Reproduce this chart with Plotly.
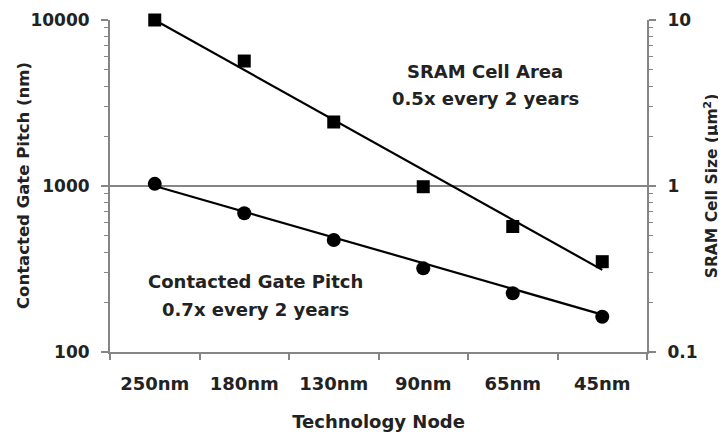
import plotly.graph_objects as go

nodes = ["250nm", "180nm", "130nm", "90nm", "65nm", "45nm"]
gate_pitch_nm = [1030, 685, 473, 319, 226, 163]
sram_cell_um2 = [10.0, 5.66, 2.43, 0.99, 0.57, 0.35]
trend_nodes = ["250nm", "45nm"]
gate_trend = [1000, 168]
sram_trend = [10.0, 0.3125]

left_major = [100, 1000, 10000]
left_labels = ["100", "1000", "10000"]
left_minor = [200, 300, 400, 500, 600, 700, 800, 900,
              2000, 3000, 4000, 5000, 6000, 7000, 8000, 9000]
right_major = [0.1, 1, 10]
right_labels = ["0.1", "1", "10"]
right_minor = [0.2, 0.3, 0.4, 0.5, 0.6, 0.7, 0.8, 0.9,
               2, 3, 4, 5, 6, 7, 8, 9]

FONT = "DejaVu Sans, sans-serif"
TXT = "#222222"
AX = "#858585"
BOLD = dict(family=FONT, color=TXT, weight="bold")

# plot area in page pixels (page body has an 8px margin)
PL, PR, PT, PB = 110, 647, 20, 352


def px(x):
    return (x - PL) / (PR - PL)


def py(y):
    return (PB - y) / (PB - PT)


fig = go.Figure()
fig.add_trace(go.Scatter(x=trend_nodes, y=gate_trend, mode="lines",
                         line=dict(color="#000", width=2.2), yaxis="y", showlegend=False,
                         cliponaxis=False))
fig.add_trace(go.Scatter(x=nodes, y=gate_pitch_nm, mode="markers",
                         marker=dict(symbol="circle", size=14, color="#000"),
                         yaxis="y", showlegend=False, cliponaxis=False))
fig.add_trace(go.Scatter(x=trend_nodes, y=sram_trend, mode="lines",
                         line=dict(color="#000", width=2.2), yaxis="y2", showlegend=False,
                         cliponaxis=False))
fig.add_trace(go.Scatter(x=nodes, y=sram_cell_um2, mode="markers",
                         marker=dict(symbol="square", size=13, color="#000"),
                         yaxis="y2", showlegend=False, cliponaxis=False))

ann_font = dict(size=18, **BOLD)
annotations = []
for text, ax_, ay_ in [("SRAM Cell Area", 485, 72), ("0.5x every 2 years", 485, 99),
                       ("Contacted Gate Pitch", 255, 281), ("0.7x every 2 years", 255, 309)]:
    annotations.append(dict(text=text, xref="paper", yref="paper", x=px(ax_), y=py(ay_),
                            xanchor="center", yanchor="middle", showarrow=False,
                            font=ann_font))
# left axis title
annotations.append(dict(text="Contacted Gate Pitch (nm)", xref="paper", yref="paper",
                        x=px(23), y=py(186), xanchor="center", yanchor="middle",
                        textangle=-90, showarrow=False, font=dict(size=16.5, **BOLD)))

fig.update_layout(
    width=718, height=426,
    margin=dict(l=PL - 8, r=726 - PR, t=PT - 8, b=434 - PB, autoexpand=False),
    paper_bgcolor="white", plot_bgcolor="white",
    font=dict(family=FONT, color=TXT),
    xaxis=dict(
        type="category", categoryorder="array", categoryarray=nodes,
        range=[-0.5, 5.5], tickson="boundaries", ticks="outside", ticklen=6,
        tickcolor=AX, tickwidth=1.5, showline=True, linecolor=AX, linewidth=2,
        showgrid=False, tickfont=dict(size=18, **BOLD), ticklabelstandoff=14,
        title=dict(text="Technology Node", font=dict(size=18, **BOLD), standoff=23),
    ),
    yaxis=dict(
        type="log", range=[2, 4], tickvals=left_major, ticktext=left_labels,
        ticks="outside", ticklen=7, tickcolor=AX, tickwidth=1.5,
        minor=dict(tickvals=left_minor, ticks="outside", ticklen=4, tickcolor=AX,
                   tickwidth=1, showgrid=False),
        showline=True, linecolor=AX, linewidth=2,
        showgrid=True, gridcolor=AX, gridwidth=1.5,
        tickfont=dict(size=17, **BOLD), ticklabelstandoff=8,
        zeroline=False,
    ),
    yaxis2=dict(
        type="log", range=[-1, 1], overlaying="y", side="right",
        tickvals=right_major, ticktext=right_labels,
        ticks="outside", ticklen=7, tickcolor=AX, tickwidth=1.5,
        minor=dict(tickvals=right_minor, ticks="outside", ticklen=4, tickcolor=AX,
                   tickwidth=1, showgrid=False),
        showline=True, linecolor=AX, linewidth=2, showgrid=False,
        tickfont=dict(size=17, **BOLD), ticklabelstandoff=8,
        title=dict(text="SRAM Cell Size (μm<sup>2</sup>)", font=dict(size=15.5, **BOLD), standoff=10),
        zeroline=False,
    ),
    annotations=annotations,
)

fig.write_html("out.html")
